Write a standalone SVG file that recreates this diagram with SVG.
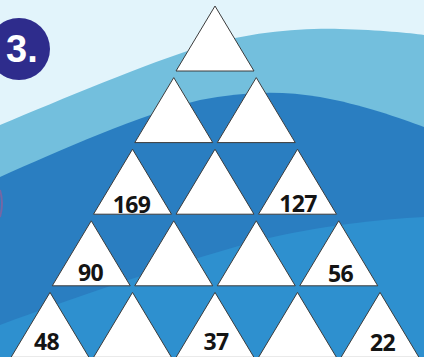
<svg xmlns="http://www.w3.org/2000/svg" width="424" height="357" viewBox="0 0 424 357">
<style>
.tri{fill:#ffffff;stroke:#3c3c3c;stroke-width:1;stroke-linejoin:miter}
.num{font-family:"Open Sans","DejaVu Sans",sans-serif;font-weight:700;font-size:23px;letter-spacing:-0.6px;fill:#141414;text-anchor:middle}
</style>
<defs>
<path id="t" d="M0,0 L39,65 L-39,65 Z"/>
</defs>
<g id="background">
<rect x="0" y="0" width="424" height="357" fill="#e2f4fb"/>
<path d="M0,125 C60,100 150,62 200,47 C250,32 300,28 340,29 C380,30 410,33 424,35 L424,357 L0,357 Z" fill="#73bfdd"/>
<path d="M0,177 C60,150 140,115 200,100 C240,92 280,90 320,97 C360,104 400,118 424,127 L424,357 L0,357 Z" fill="#2a7ec1"/>
<path d="M0,325 C80,295 180,262 260,240 C320,226 380,219 424,217 L424,357 L0,357 Z" fill="#2e90cf"/>
<path d="M0,190 Q4,203 0,217" fill="none" stroke="#c0508a" stroke-width="2" opacity="0.5"/>
</g>
<g id="badge">
<circle cx="19" cy="49" r="31" fill="#2e2c8c"/>
<text x="6" y="62" font-family="'Liberation Sans',Arial,sans-serif" font-weight="700" font-size="38" fill="#ffffff">3.</text>
</g>
<g id="t1"><use href="#t" class="tri" x="215" y="6"/></g>
<g id="t2a"><use href="#t" class="tri" x="173.75" y="77.6"/></g>
<g id="t2b"><use href="#t" class="tri" x="256.25" y="77.6"/></g>
<g id="t3a"><use href="#t" class="tri" x="132.5" y="149.2"/><text class="num" x="131.5" y="213">169</text></g>
<g id="t3b"><use href="#t" class="tri" x="215" y="149.2"/></g>
<g id="t3c"><use href="#t" class="tri" x="297.5" y="149.2"/><text class="num" x="298" y="212">127</text></g>
<g id="t4a"><use href="#t" class="tri" x="91.25" y="220.8"/><text class="num" x="90.5" y="281">90</text></g>
<g id="t4b"><use href="#t" class="tri" x="173.75" y="220.8"/></g>
<g id="t4c"><use href="#t" class="tri" x="256.25" y="220.8"/></g>
<g id="t4d"><use href="#t" class="tri" x="338.75" y="220.8"/><text class="num" x="340.5" y="282">56</text></g>
<g id="t5a"><use href="#t" class="tri" x="50" y="292.4"/><text class="num" x="46.5" y="350">48</text></g>
<g id="t5b"><use href="#t" class="tri" x="132.5" y="292.4"/></g>
<g id="t5c"><use href="#t" class="tri" x="215" y="292.4"/><text class="num" x="216" y="350">37</text></g>
<g id="t5d"><use href="#t" class="tri" x="297.5" y="292.4"/></g>
<g id="t5e"><use href="#t" class="tri" x="380" y="292.4"/><text class="num" x="382.5" y="351">22</text></g>
<g id="connectors"/>
</svg>
